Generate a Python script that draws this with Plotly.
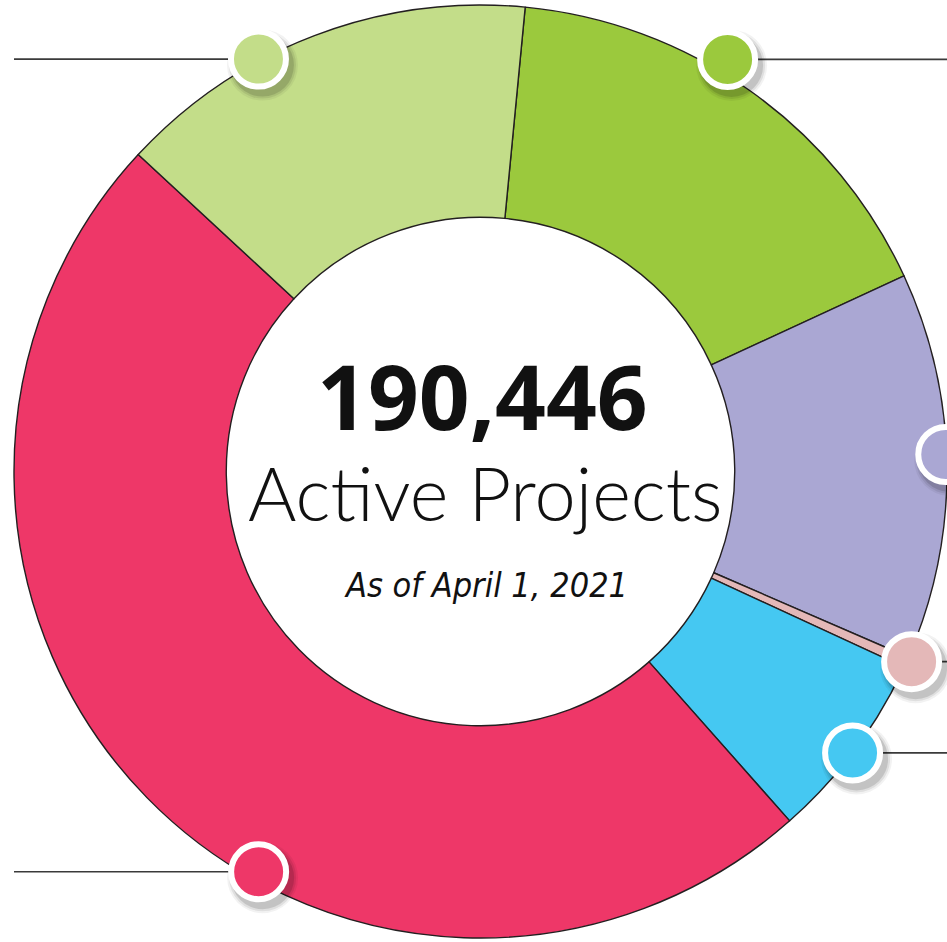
import numpy as np
import plotly.graph_objects as go

# -----------------------------
# Données
# -----------------------------
categories = ["Category A", "Category B", "Category C", "Category D", "Category E", "Category F"]
projects = [31580, 25535, 700, 12540, 92211, 27880]
colors = ["#9BC93D", "#AAA7D3", "#E4B8B8", "#45C8F2", "#EE3768", "#C3DD89"]

total_label = "190,446"
subtitle = "Active Projects"
date_label = "As of April 1, 2021"

# position des pastilles (angle horaire depuis midi, facteur de rayon)
callout_angle = [30.95, 87.9, 113.8, 127.1, 209.0, 331.7]
callout_radius = [1.030, 0.998, 1.010, 1.0, 0.981, 1.004]
callout_side = ["right", "right", "right", "right", "left", "left"]

# -----------------------------
# Géométrie
# -----------------------------
W, H = 947, 942
dom_x = [14 / W, 1.0]
dom_y = [4 / H, 937 / H]
cx = (dom_x[0] + dom_x[1]) / 2 * W
cy = H - (dom_y[0] + dom_y[1]) / 2 * H
R = min((dom_x[1] - dom_x[0]) * W, (dom_y[1] - dom_y[0]) * H) / 2


def px(x):
    return x / W


def py(y):
    return 1 - y / H


fig = go.Figure(go.Pie(
    labels=categories,
    values=projects,
    hole=0.545,
    sort=False,
    direction="clockwise",
    rotation=5.5,
    marker=dict(colors=colors, line=dict(color="#231F20", width=1.4)),
    textinfo="none",
    hoverinfo="label+value+percent",
    domain=dict(x=dom_x, y=dom_y),
    showlegend=False,
))

shapes = []
r_out = 30.5
for ang, rf, side, col in zip(callout_angle, callout_radius, callout_side, colors):
    a = np.radians(ang)
    mx = cx + R * rf * np.sin(a)
    my = cy - R * rf * np.cos(a)
    # trait de rappel
    x_end = 947 if side == "right" else 14
    shapes.append(dict(type="line", xref="paper", yref="paper",
                       x0=px(mx), x1=px(x_end), y0=py(my), y1=py(my),
                       line=dict(color="#3A3A3A", width=1.6), layer="above"))
    # ombre
    for grow, op in [(5, 0.05), (3, 0.08), (1, 0.12)]:
        shapes.append(dict(type="circle", xref="paper", yref="paper",
                           x0=px(mx + 4 - r_out - grow), x1=px(mx + 4 + r_out + grow),
                           y0=py(my + 6 - r_out - grow), y1=py(my + 6 + r_out + grow),
                           fillcolor="rgba(0,0,0,%.2f)" % op, line=dict(width=0), layer="above"))
    shapes.append(dict(type="circle", xref="paper", yref="paper",
                       x0=px(mx - 27.5), x1=px(mx + 27.5),
                       y0=py(my - 27.5), y1=py(my + 27.5),
                       fillcolor=col, line=dict(color="white", width=6), layer="above"))

annotations = [
    dict(text="<b>" + total_label + "</b>", x=px(482), y=py(395), xref="paper", yref="paper",
         showarrow=False, xanchor="center", yanchor="middle",
         font=dict(family="Open Sans", size=89, color="#111111")),
    dict(text=subtitle, x=px(485), y=py(492), xref="paper", yref="paper",
         showarrow=False, xanchor="center", yanchor="middle",
         font=dict(family="Lato", size=74, color="#111111", weight=300)),
    dict(text="<i>" + date_label + "</i>", x=px(486), y=py(585), xref="paper", yref="paper",
         showarrow=False, xanchor="center", yanchor="middle",
         font=dict(family="DejaVu Sans Condensed, Liberation Sans Narrow, Roboto", size=34, color="#111111")),
]

fig.update_layout(
    width=W,
    height=H,
    margin=dict(l=0, r=0, t=0, b=0),
    paper_bgcolor="white",
    plot_bgcolor="white",
    shapes=shapes,
    annotations=annotations,
)

fig.write_html("out.html", config={"displayModeBar": False},
               post_script="document.body.style.margin='0';")
